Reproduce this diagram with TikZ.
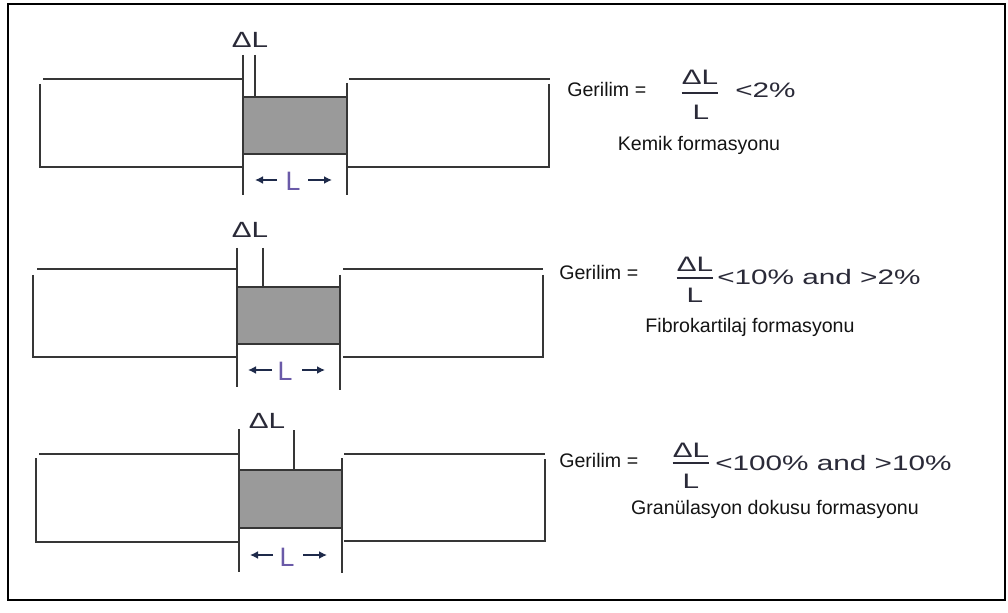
\documentclass[tikz,border=0pt]{standalone}
\usepackage{fontspec}
\setmainfont{Liberation Sans}
\usepackage{graphicx}
\usetikzlibrary{arrows.meta}
\definecolor{linegray}{HTML}{363636}
\definecolor{fillgray}{HTML}{9A9A9A}
\definecolor{labelink}{HTML}{2A2A38}
\definecolor{lpurple}{HTML}{6A5AA8}
\definecolor{arrowink}{HTML}{1E2A4A}
\definecolor{textink}{HTML}{141414}
\newcommand{\wide}[1]{\scalebox{1.42}[1]{#1}}
\begin{document}
\begin{tikzpicture}[x=0.75pt,y=-0.75pt,
  rod/.style={draw=linegray,line width=1.9pt},
  gapbox/.style={fill=fillgray,draw=linegray,line width=1.9pt},
  dlab/.style={inner sep=0pt,anchor=base,text=labelink,font=\fontsize{16.5}{18}\selectfont},
  lmark/.style={inner sep=0pt,text=lpurple,font=\fontsize{20}{22}\selectfont},
  larrow/.style={draw=arrowink,line width=1.4pt,-{Latex[length=6pt,width=6pt]}},
  eqlab/.style={inner sep=0pt,anchor=base west,text=textink,font=\fontsize{14.7}{17}\selectfont},
  fracpart/.style={inner sep=0pt,anchor=base,text=labelink,font=\fontsize{15.7}{18}\selectfont},
  ratio/.style={inner sep=0pt,anchor=base west,text=labelink,font=\fontsize{15.7}{18}\selectfont},
  caption/.style={inner sep=0pt,anchor=base,text=textink,font=\fontsize{14.7}{17}\selectfont},
  fracbar/.style={draw=labelink,line width=1.4pt}
]
\useasboundingbox (0,0) rectangle (1008,613);
\fill[white] (0,0) rectangle (1008,613);
% outer frame
\draw[black,line width=1.6pt] (8,4) rectangle (1005,600);

% ---------- row 1: bone ----------
\draw[rod] (43,79) -- (243,79);
\draw[rod] (40,84) -- (40,167) -- (243,167);
\draw[gapbox] (243,97) rectangle (347,154);
\draw[rod] (243,55) -- (243,195);
\draw[rod] (255,55) -- (255,97);
\draw[rod] (347,83) -- (347,195);
\draw[rod] (349,79) -- (550,79);
\draw[rod] (549,84) -- (549,167) -- (348,167);
\node[dlab] (dA) at (250,48) {\scalebox{1.35}[1]{ΔL}};
\node[lmark] (lA) at (293,181) {L};
\coordinate (lAl) at (277,180);
\coordinate (lAr) at (308,180);
\draw[larrow] (lAl) -- ++(-22,0);
\draw[larrow] (lAr) -- ++(24,0);

\node[eqlab] (gA) at (567,97) {Gerilim =};
\node[fracpart] (nA) at (700,85) {\wide{ΔL}};
\draw[fracbar] ([yshift=-6pt]nA.south west) -- ([yshift=-6pt]nA.south east);
\node[fracpart] (dnA) at (701,120) {\wide{L}};
\node[ratio] (rA) at (735,98) {\wide{<2\%}};
\node[caption] (cA) at (699,151) {Kemik formasyonu};

% ---------- row 2: fibrocartilage ----------
\draw[rod] (37,269) -- (237,269);
\draw[rod] (33,275) -- (33,357) -- (237,357);
\draw[gapbox] (237,287) rectangle (340,344);
\draw[rod] (237,248) -- (237,387);
\draw[rod] (263,248) -- (263,287);
\draw[rod] (340,275) -- (340,390);
\draw[rod] (343,269) -- (543,269);
\draw[rod] (543,275) -- (543,357) -- (343,357);
\node[dlab] (dB) at (250,238) {\scalebox{1.35}[1]{ΔL}};
\node[lmark] (lB) at (285,371) {L};
\coordinate (lBl) at (272,370);
\coordinate (lBr) at (302,370);
\draw[larrow] (lBl) -- ++(-24,0);
\draw[larrow] (lBr) -- ++(23,0);

\node[eqlab] (gB) at (559,280) {Gerilim =};
\node[fracpart] (nB) at (695,272) {\wide{ΔL}};
\draw[fracbar] ([yshift=-4pt]nB.south west) -- ([yshift=-4pt]nB.south east);
\node[fracpart] (dnB) at (695,303) {\wide{L}};
\node[ratio] (rB) at (717,285) {\wide{<10\% and >2\%}};
\node[caption] (cB) at (750,333) {Fibrokartilaj formasyonu};

% ---------- row 3: granulation tissue ----------
\draw[rod] (39,454) -- (239,454);
\draw[rod] (36,458) -- (36,542) -- (239,542);
\draw[gapbox] (239,470) rectangle (342,528);
\draw[rod] (239,429) -- (239,572);
\draw[rod] (294,430) -- (294,470);
\draw[rod] (342,458) -- (342,573);
\draw[rod] (344,454) -- (545,454);
\draw[rod] (545,459) -- (545,541) -- (344,541);
\node[dlab] (dC) at (267,428) {\scalebox{1.35}[1]{ΔL}};
\node[lmark] (lC) at (287,557) {L};
\coordinate (lCl) at (273,555);
\coordinate (lCr) at (303,555);
\draw[larrow] (lCl) -- ++(-23,0);
\draw[larrow] (lCr) -- ++(24,0);

\node[eqlab] (gC) at (559,467) {Gerilim =};
\node[fracpart] (nC) at (691,457) {\wide{ΔL}};
\draw[fracbar] ([yshift=-4pt]nC.south west) -- ([yshift=-4pt]nC.south east);
\node[fracpart] (dnC) at (691,488) {\wide{L}};
\node[ratio] (rC) at (715,470) {\wide{<100\% and >10\%}};
\node[caption] (cC) at (775,514) {Granülasyon dokusu formasyonu};
\end{tikzpicture}
\end{document}
